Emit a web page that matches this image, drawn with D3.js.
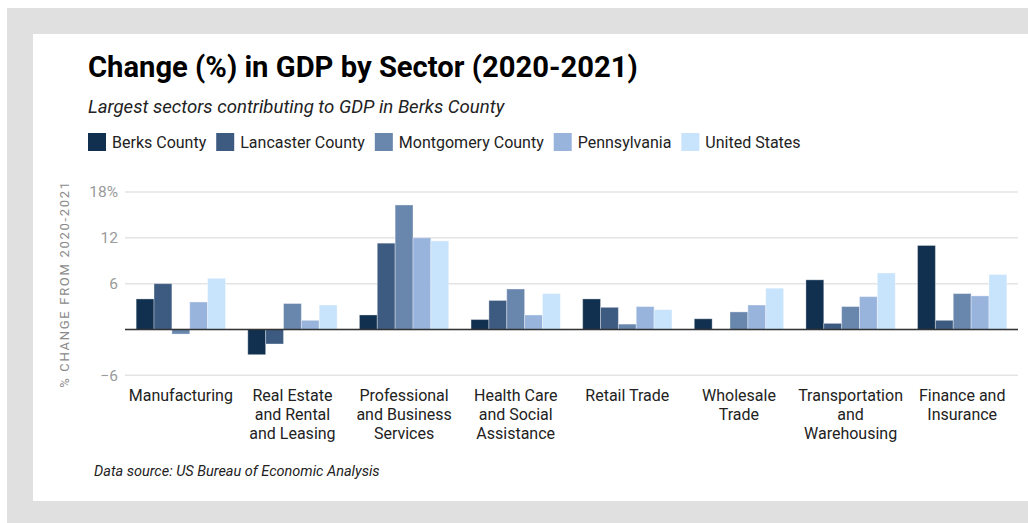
<!DOCTYPE html>
<html>
<head>
<meta charset="utf-8">
<script src="https://cdn.jsdelivr.net/npm/d3@7"></script>
<style>
  html, body { margin: 0; padding: 0; background: #ffffff; }
  svg { display: block; font-family: Roboto, "Noto Sans", sans-serif; }
</style>
</head>
<body>
<svg id="chart" width="1028" height="523"></svg>
<script>
// Sectors (x-axis categories), with line breaks for the labels
const sectors = [
  "Manufacturing",
  "Real Estate\nand Rental\nand Leasing",
  "Professional\nand Business\nServices",
  "Health Care\nand Social\nAssistance",
  "Retail Trade",
  "Wholesale\nTrade",
  "Transportation\nand\nWarehousing",
  "Finance and\nInsurance"
];

const seriesNames = ["Berks County", "Lancaster County", "Montgomery County", "Pennsylvania", "United States"];

// Percent change in GDP, 2020-2021, one array per series
const berks      = [4.0, -3.3,  1.9, 1.3, 4.0, 1.4, 6.5, 11.0];
const lancaster  = [6.0, -1.9, 11.3, 3.8, 2.9, 0.0, 0.8,  1.2];
const montgomery = [-0.6, 3.4, 16.3, 5.3, 0.7, 2.3, 3.0,  4.7];
const pennsylvania = [3.6, 1.2, 12.0, 1.9, 3.0, 3.2, 4.3, 4.4];
const unitedStates = [6.7, 3.2, 11.6, 4.7, 2.6, 5.4, 7.4, 7.2];

const seriesValues = [berks, lancaster, montgomery, pennsylvania, unitedStates];
const colors = ["#11304f", "#3d5a80", "#6986ad", "#98b4dc", "#c8e3fc"];

const yTicks = [-6, 0, 6, 12, 18];
const yTickLabels = ["\u22126", "", "6", "12", "18%"];

const svg = d3.select("#chart");
const W = 1028, H = 523;

// Framed background: grey border, white card
svg.append("rect").attr("x", 7).attr("y", 8).attr("width", W - 7).attr("height", H - 8).attr("fill", "#e0e0e0");
svg.append("rect").attr("x", 33).attr("y", 34).attr("width", W - 33).attr("height", 467).attr("fill", "#ffffff");

// Titles
svg.append("text").attr("x", 88).attr("y", 77)
  .attr("font-size", 29.2).attr("font-weight", 700).attr("fill", "#000")
  .text("Change (%) in GDP by Sector (2020-2021)");
svg.append("text").attr("x", 88).attr("y", 113)
  .attr("font-size", 18.6).attr("font-style", "italic").attr("fill", "#222")
  .text("Largest sectors contributing to GDP in Berks County");

// Legend
const legend = svg.append("g").attr("transform", "translate(88,133)");
let lx = 0;
seriesNames.forEach((name, i) => {
  const g = legend.append("g").attr("transform", `translate(${lx},0)`);
  g.append("rect").attr("width", 18).attr("height", 18).attr("fill", colors[i]);
  const t = g.append("text").attr("x", 24).attr("y", 14.5)
    .attr("font-size", 16).attr("fill", "#222").text(name);
  lx += 24 + t.node().getComputedTextLength() + 10;
});

// Scales
const x0 = d3.scaleBand().domain(sectors).range([125, 1018]).paddingInner(0.2).paddingOuter(0.1);
const x1 = d3.scaleBand().domain(d3.range(seriesNames.length)).range([0, x0.bandwidth()]);
const y = d3.scaleLinear().domain([-6, 18]).range([375.3, 192]);

// Gridlines
svg.append("g").selectAll("line").data(yTicks).join("line")
  .attr("x1", 125).attr("x2", 1018)
  .attr("y1", d => y(d)).attr("y2", d => y(d))
  .attr("stroke", "#e4e4e4").attr("stroke-width", 1.5);

// Y axis tick labels
const yAxis = d3.axisLeft(y).tickValues(yTicks).tickSize(0).tickPadding(0)
  .tickFormat((d, i) => yTickLabels[i]);
const ya = svg.append("g").attr("transform", "translate(118,0)").call(yAxis);
ya.select(".domain").remove();
ya.selectAll("text").attr("font-size", 15.5).attr("fill", "#9a9a9a")
  .attr("font-family", "Roboto, sans-serif");

// Y axis title
svg.append("text")
  .attr("transform", `translate(69,${(185 + 383) / 2}) rotate(-90)`)
  .attr("text-anchor", "middle").attr("font-size", 13).attr("letter-spacing", 1.7)
  .attr("fill", "#8a8a8a").text("% CHANGE FROM 2020-2021");

// Bars
const groups = svg.append("g").selectAll("g").data(sectors).join("g")
  .attr("transform", d => `translate(${x0(d)},0)`);
groups.selectAll("rect")
  .data((d, ci) => seriesValues.map((vals, si) => ({ si, v: vals[ci] })))
  .join("rect")
  .attr("x", d => x1(d.si))
  .attr("width", x1.bandwidth())
  .attr("y", d => y(Math.max(0, d.v)))
  .attr("height", d => Math.abs(y(d.v) - y(0)))
  .attr("fill", d => colors[d.si])
  .attr("stroke", "rgba(255,255,255,0.35)").attr("stroke-width", 1);

// Zero line
svg.append("line").attr("x1", 125).attr("x2", 1018)
  .attr("y1", y(0)).attr("y2", y(0)).attr("stroke", "#333").attr("stroke-width", 1.6);

// X axis labels
const xAxis = d3.axisBottom(x0).tickSize(0).tickFormat("");
const xa = svg.append("g").attr("transform", `translate(0,${y(-6) + 6})`).call(xAxis);
xa.select(".domain").remove();
xa.selectAll(".tick").each(function(d) {
  const lines = d.split("\n");
  const t = d3.select(this).append("text")
    .attr("text-anchor", "middle").attr("font-size", 16).attr("fill", "#222")
    .attr("font-family", "Roboto, sans-serif");
  lines.forEach((ln, i) => {
    t.append("tspan").attr("x", 0).attr("y", 20 + i * 19).text(ln);
  });
});

// Source note
svg.append("text").attr("x", 94).attr("y", 476)
  .attr("font-size", 14.5).attr("font-style", "italic").attr("fill", "#222")
  .text("Data source: US Bureau of Economic Analysis");
</script>
</body>
</html>
